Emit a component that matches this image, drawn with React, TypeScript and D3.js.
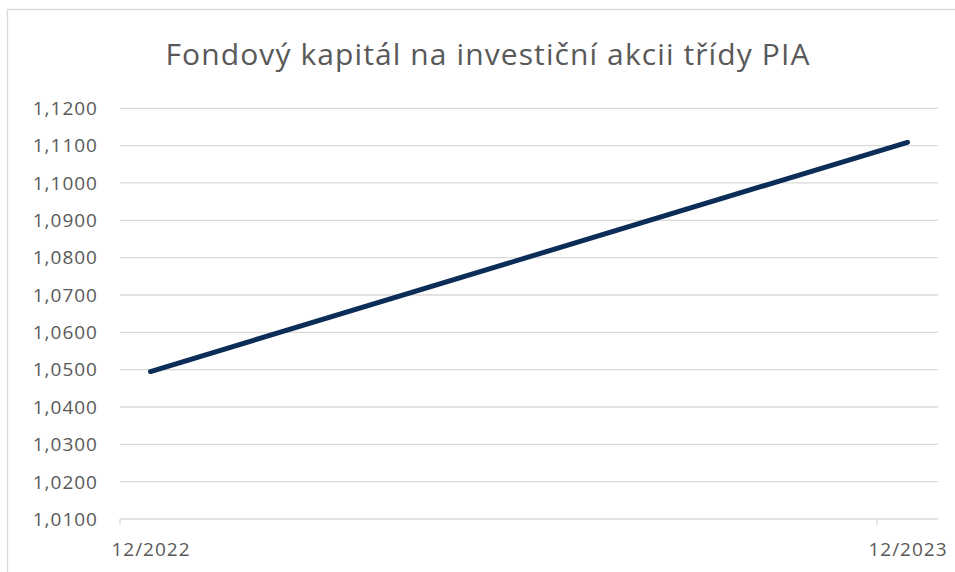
import React from "react";
import * as d3 from "d3";

const title = "Fondový kapitál na investiční akcii třídy PIA";
const categories = ["12/2022", "12/2023"];
const values = [1.0495, 1.1109];
const yTicks = [1.01, 1.02, 1.03, 1.04, 1.05, 1.06, 1.07, 1.08, 1.09, 1.1, 1.11, 1.12];

const W = 955;
const H = 572;
const font = "'Open Sans', sans-serif";
const textColor = "#595959";

export default function App() {
  const y = d3.scaleLinear().domain([1.01, 1.12]).range([519, 108.3]);
  const x = d3.scalePoint<string>().domain(categories).range([150.5, 907.5]);
  const tickOffset = -30.5;
  const fmt = (v: number) => v.toFixed(4).replace(".", ",");
  const line = d3
    .line<number>()
    .x((_, i) => x(categories[i]) as number)
    .y((d) => y(d));

  return (
    <svg
      width={W}
      height={H}
      style={{ position: "absolute", left: 0, top: 0, background: "#fff" }}
      fontFamily={font}
    >
      <rect x={0} y={0} width={W} height={H} fill="#fff" />
      <rect x={7.5} y={9.5} width={W + 20} height={H + 20} fill="none" stroke="#d9d9d9" strokeWidth={1.3} />
      <text x={488} y={65} textAnchor="middle" fontSize={30} letterSpacing={1.1} fill={textColor}>
        {title}
      </text>
      {yTicks.map((t) => (
        <g key={t}>
          <line x1={120} x2={938} y1={y(t)} y2={y(t)} stroke="#d9d9d9" strokeWidth={1.3} />
          <text x={98} y={y(t)} dy="0.36em" textAnchor="end" fontSize={19} letterSpacing={1} fill={textColor}>
            {fmt(t)}
          </text>
        </g>
      ))}
      {categories.map((c) => (
        <g key={c}>
          <line
            x1={(x(c) as number) + tickOffset}
            x2={(x(c) as number) + tickOffset}
            y1={y(1.01)}
            y2={y(1.01) + 6}
            stroke="#d9d9d9"
            strokeWidth={1.3}
          />
          <text x={(x(c) as number) + 0.5} y={556} textAnchor="middle" fontSize={19} letterSpacing={1} fill={textColor}>
            {c}
          </text>
        </g>
      ))}
      <path
        d={line(values) as string}
        fill="none"
        stroke="#0b2d57"
        strokeWidth={5}
        strokeLinecap="round"
      />
    </svg>
  );
}
